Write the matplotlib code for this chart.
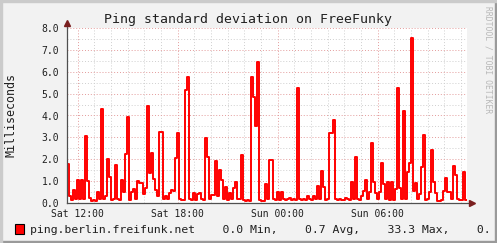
import numpy as np
import matplotlib.pyplot as plt
from matplotlib.lines import Line2D
from matplotlib.patches import Rectangle

# samples of ping std-dev (ms), one every 0.12 h starting Sat 11:21
start_h = 11.36
step_h = 0.12
std_ms = [
    1.80, 0.30, 0.15, 0.60, 0.20, 1.05, 0.20, 1.05, 0.20, 3.05,
    1.00, 0.25, 0.10, 0.15, 0.10, 0.50, 0.20, 4.30, 0.20, 0.30,
    2.00, 1.20, 0.15, 0.20, 1.72, 0.20, 0.15, 1.05, 0.50, 2.25,
    3.95, 0.15, 0.50, 0.65, 0.20, 1.00, 0.90, 0.90, 0.40, 0.70,
    4.43, 1.35, 2.27, 1.10, 0.60, 0.30, 3.26, 3.26, 0.20, 0.30,
    0.20, 0.45, 0.60, 0.55, 2.04, 3.19, 0.20, 0.15, 0.15, 5.17,
    5.77, 0.20, 0.15, 0.45, 0.15, 0.40, 0.45, 0.20, 0.15, 2.95,
    2.10, 0.20, 0.35, 0.35, 1.92, 0.30, 1.51, 1.05, 0.20, 0.72,
    0.15, 0.46, 0.20, 0.70, 0.96, 0.20, 0.20, 2.20, 0.15, 0.10,
    0.12, 0.10, 5.77, 4.85, 3.50, 6.45, 0.15, 0.10, 0.10, 0.86,
    0.20, 1.96, 1.96, 0.20, 0.15, 0.52, 0.15, 0.52, 0.20, 0.15,
    0.20, 0.25, 0.15, 0.20, 0.15, 5.25, 0.20, 0.15, 0.20, 0.15,
    0.30, 0.20, 0.15, 0.30, 0.20, 0.76, 0.20, 1.48, 0.71, 0.15,
    0.20, 3.20, 3.20, 3.79, 0.20, 0.15, 0.20, 0.15, 0.15, 0.25,
    0.20, 0.15, 0.96, 0.20, 2.12, 0.20, 0.15, 0.30, 0.56, 1.05,
    0.20, 0.50, 2.73, 0.96, 0.45, 0.20, 0.52, 1.81, 0.87, 0.20,
    0.96, 0.15, 0.95, 0.15, 0.65, 5.24, 0.70, 0.20, 4.22, 0.20,
    1.42, 1.85, 7.53, 0.55, 0.90, 0.20, 0.40, 1.66, 3.11, 0.15,
    0.20, 0.50, 2.42, 0.96, 0.45, 0.10, 0.10, 0.15, 0.55, 1.13,
    0.50, 0.50, 0.20, 1.69, 1.29, 0.20, 0.15, 0.15, 1.40, 0.15,
]

tick_hours = [12, 18, 24, 30]
tick_labels = ["Sat 12:00", "Sat 18:00", "Sun 00:00", "Sun 06:00"]
legend_text = "ping.berlin.freifunk.net    0.0 Min,    0.7 Avg,    33.3 Max,    0."

mono = "DejaVu Sans Mono"
W, H = 497, 243

fig = plt.figure(figsize=(W / 100, H / 100), dpi=100)
fig.patch.set_facecolor("#F2F2F2")

# 3d frame
fig.patches.append(Rectangle((0, 0), 1, 2 / H, transform=fig.transFigure, color="#9a9a9a", zorder=0))
fig.patches.append(Rectangle((1 - 2 / W, 0), 2 / W, 1, transform=fig.transFigure, color="#9a9a9a", zorder=0))
fig.patches.append(Rectangle((0, 1 - 2 / H), 1, 2 / H, transform=fig.transFigure, color="#cbcbcb", zorder=0))
fig.patches.append(Rectangle((0, 0), 2 / W, 1, transform=fig.transFigure, color="#cbcbcb", zorder=0))

ax = fig.add_axes([67 / W, 40 / H, 400 / W, 175 / H])
ax.set_facecolor("white")

t = start_h + step_h * np.arange(len(std_ms) + 1)
vals = std_ms + [std_ms[-1]]
ax.step(t, vals, where="post", color="#FF0000", lw=1.4, zorder=3)

ax.set_xlim(start_h, start_h + 24)
ax.set_ylim(0, 8)

ax.set_xticks(tick_hours)
ax.set_xticklabels(tick_labels)
ax.set_xticks(np.arange(12, 36, 1), minor=True)
ax.set_yticks(np.arange(0, 9, 1))
ax.set_yticklabels(["%.1f" % v for v in np.arange(0, 9, 1)])
ax.set_yticks(np.arange(0, 8.5, 0.5), minor=True)

ax.grid(which="minor", color="#cfcfcf", ls=(0, (1, 2)), lw=0.7)
ax.grid(which="major", color="#e39b9b", ls=(0, (1, 2)), lw=0.7)
ax.set_axisbelow(True)

for s in ax.spines.values():
    s.set_visible(False)
ax.tick_params(which="both", length=0, colors="#202020")
ax.tick_params(axis="y", pad=5.5)
ax.tick_params(axis="x", pad=4)
for lab in ax.get_xticklabels() + ax.get_yticklabels():
    lab.set_fontfamily(mono)
    lab.set_fontsize(7)

# axes with arrows
ax.add_line(Line2D([0, 0], [0, 1.025], transform=ax.transAxes, color="#505050", lw=0.9, clip_on=False, zorder=4))
ax.add_line(Line2D([0, 1.01], [0, 0], transform=ax.transAxes, color="#505050", lw=0.9, clip_on=False, zorder=4))
ax.plot([0], [1.03], marker="^", ms=4, color="#7a1f1f", transform=ax.transAxes, clip_on=False, zorder=5)
ax.plot([1.012], [0], marker=">", ms=4, color="#7a1f1f", transform=ax.transAxes, clip_on=False, zorder=5)

fig.text(248 / W, 1 - 19 / H, "Ping standard deviation on FreeFunky", family=mono,
         fontsize=9.5, ha="center", va="center", color="#202020")
fig.text(11 / W, 1 - 115 / H, "Milliseconds", family=mono, fontsize=8.4,
         rotation=90, ha="center", va="center", color="#202020")
fig.text(488 / W, 1 - 6 / H, "RRDTOOL / TOBI OETIKER", family=mono, fontsize=5.8,
         rotation=270, ha="center", va="top", color="#b8b8b8")

fig.patches.append(Rectangle((15 / W, 1 - 234 / H), 9 / W, 10 / H, transform=fig.transFigure,
                             facecolor="#FF0000", edgecolor="black", lw=0.8))
fig.text(30 / W, 1 - 229.5 / H, legend_text, family=mono, fontsize=8.25,
         ha="left", va="center", color="#202020")

fig.savefig("out.png", dpi=100, facecolor=fig.get_facecolor())
